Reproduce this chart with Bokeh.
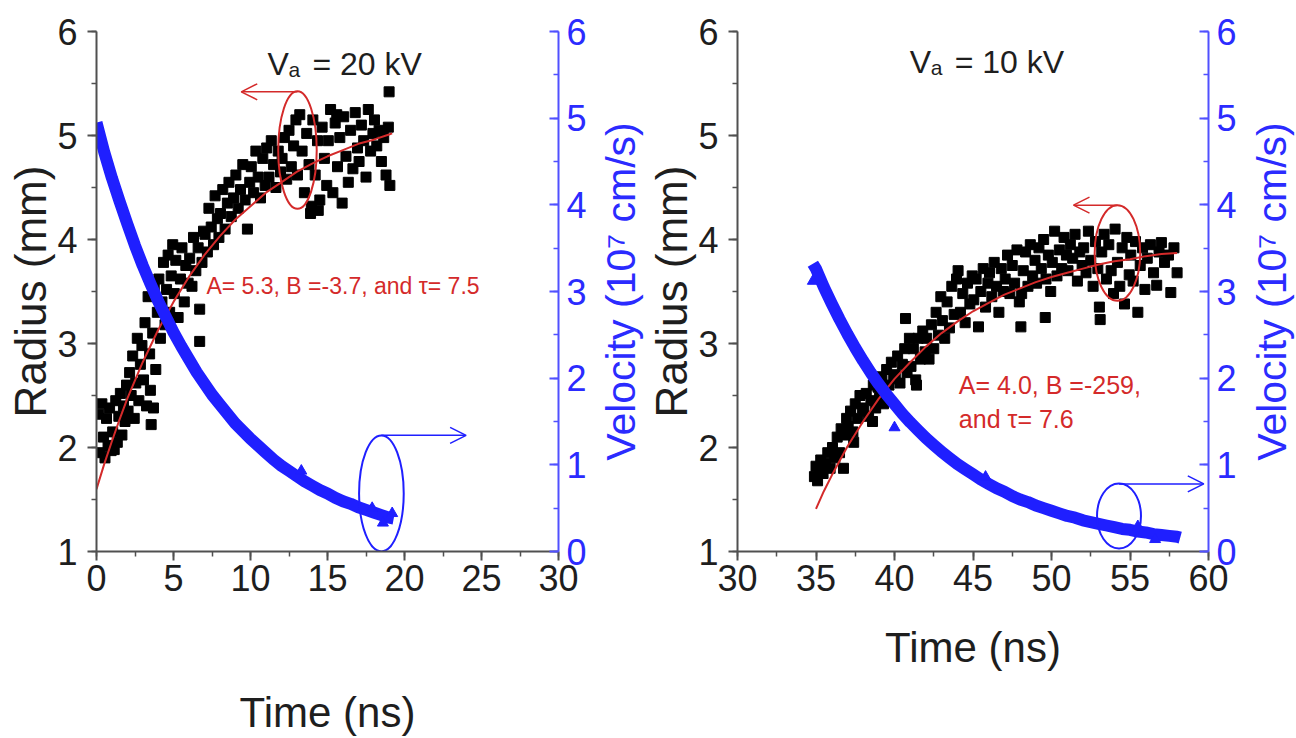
import math
from bokeh.plotting import figure
from bokeh.layouts import row
from bokeh.models import Range1d, LinearAxis, SingleIntervalTicker, Label, Arrow, OpenHead, Title
from bokeh.embed import file_html
from bokeh.resources import INLINE

# ---------------- left panel (Va = 20 kV) ----------------
left_time = [
    0.15, 0.25, 0.35, 0.45, 0.55, 0.65, 0.75, 0.85, 0.95,
    1.05, 1.15, 1.25, 1.35, 1.45, 1.55, 1.65, 1.75, 1.85, 1.95,
    2.05, 2.15, 2.25, 2.35, 2.45, 2.55, 2.65, 2.75, 2.85, 2.95,
    3.05, 3.15, 3.25, 3.35, 3.45, 3.55, 3.65, 3.75, 3.85, 3.95, 3.5, 3.7,
    4.05, 4.15, 4.25, 4.35, 4.45, 4.55, 4.65, 4.75, 4.85, 4.95,
    5.05, 5.15, 5.3, 5.45, 5.55, 5.7, 5.8, 5.95,
    6.05, 6.2, 6.3, 6.45, 6.6, 6.7, 6.7, 6.85, 6.95,
    7.05, 7.2, 7.3, 7.45, 7.6, 7.7, 7.85, 7.95,
    8.05, 8.2, 8.35, 8.5, 8.6, 8.75, 8.9,
    9.05, 9.2, 9.35, 9.5, 9.65, 9.8, 9.95,
    10.05, 10.2, 10.35, 10.5, 10.65, 10.8, 10.95,
    11.05, 11.2, 11.35, 11.5, 11.65, 11.8, 11.95,
    12.05, 12.2, 12.35, 12.5, 12.65, 12.8, 12.95,
    13.05, 13.2, 13.35, 13.5, 13.65, 13.8, 13.95, 13.9,
    14.05, 14.2, 14.35, 14.5, 14.65, 14.8, 14.95, 14.4,
    15.05, 15.2, 15.35, 15.5, 15.65, 15.8, 15.95, 15.6,
    16.05, 16.2, 16.35, 16.5, 16.65, 16.8, 16.95,
    17.05, 17.2, 17.35, 17.5, 17.65, 17.8, 17.95,
    18.05, 18.2, 18.35, 18.5, 18.65, 18.8, 18.95, 19.0, 19.05]
left_radius = [
    2.32, 1.95, 2.42, 2.10, 1.90, 2.28, 2.02, 2.38, 1.97,
    2.15, 1.98, 2.45, 2.05, 2.30, 2.52, 2.12, 2.40, 2.25, 2.60,
    2.35, 2.72, 2.50, 2.88, 2.28, 2.62, 3.05, 2.45, 2.80, 2.98,
    2.65, 3.20, 2.40, 3.45, 2.90, 2.22, 3.10, 3.55, 2.75, 3.30, 2.55, 2.38,
    3.62, 3.05, 3.40, 3.78, 3.18, 3.52, 3.85, 3.30, 3.65, 3.95,
    3.48, 3.80, 3.25, 3.62, 3.92, 3.40, 3.75, 3.58,
    3.82, 3.55, 4.02, 3.70, 3.92, 3.33, 3.02, 3.78, 4.08,
    4.05, 3.88, 4.30, 4.12, 3.95, 4.42, 4.20, 4.02,
    4.25, 4.48, 4.10, 4.35, 4.55, 4.22, 4.40,
    4.62, 4.30, 4.48, 4.72, 4.38, 4.10, 4.55,
    4.70, 4.45, 4.85, 4.60, 4.40, 4.78, 4.52,
    4.88, 4.60, 4.95, 4.72, 4.50, 4.85, 4.65,
    4.78, 4.98, 4.58, 5.05, 4.70, 4.90, 5.15,
    4.62, 5.20, 4.85, 4.45, 5.02, 4.72, 4.32, 4.25,
    5.15, 4.62, 4.95, 4.38, 5.08, 4.78, 4.52, 4.28,
    4.95, 5.25, 4.45, 5.12, 4.70, 4.98, 4.35, 5.20,
    5.18, 4.80, 4.55, 5.05, 4.68, 5.22, 4.88,
    4.75, 5.10, 4.95, 4.60, 5.25, 4.85, 5.02,
    5.15, 4.90, 5.05, 4.75, 4.98, 4.62, 5.08, 5.42, 4.52]
left_fit_time = [0, 0.5, 1, 1.5, 2, 3, 4, 5, 6, 7, 8, 9, 10, 11, 12, 13, 14, 15, 16, 17, 18, 19, 19.2]
left_fit_radius = [1.60, 1.84, 2.06, 2.27, 2.47, 2.82, 3.13, 3.40, 3.64, 3.85, 4.03, 4.19, 4.32,
                   4.45, 4.55, 4.65, 4.73, 4.80, 4.86, 4.92, 4.96, 5.01, 5.02]
left_vel_time = [0.0, 0.5, 1.0, 1.5, 2.0, 2.5, 3.0, 3.5, 4.0, 4.5, 5.0, 5.5, 6.0, 6.5, 7.0, 7.5,
                 8.0, 8.5, 9.0, 9.5, 10.0, 10.5, 11.0, 11.5, 12.0, 12.5, 13.0, 13.5, 14.0, 14.5,
                 15.0, 15.5, 16.0, 16.5, 17.0, 17.5, 18.0, 18.5, 19.0, 19.3]
left_vel = [4.95, 4.61, 4.31, 4.04, 3.78, 3.53, 3.30, 3.09, 2.89, 2.71, 2.53, 2.37, 2.22, 2.07,
            1.94, 1.81, 1.70, 1.59, 1.48, 1.39, 1.30, 1.22, 1.14, 1.06, 0.99, 0.93, 0.87, 0.81,
            0.76, 0.71, 0.67, 0.62, 0.58, 0.55, 0.51, 0.48, 0.45, 0.42, 0.39, 0.38]
left_spike_time = [13.3, 17.9, 18.6, 19.2]
left_spike_vel = [0.93, 0.50, 0.33, 0.44]

# ---------------- right panel (Va = 10 kV) ----------------
right_time = [
    34.9, 35.0, 35.1, 35.2, 35.3, 35.45, 35.6, 35.75, 35.9,
    36.05, 36.2, 36.35, 36.5, 36.6, 36.75, 36.9, 36.95,
    37.05, 37.2, 37.35, 37.5, 37.65, 37.8, 37.95, 37.4,
    38.05, 38.2, 38.35, 38.5, 38.65, 38.8, 38.95, 38.6,
    39.05, 39.2, 39.35, 39.5, 39.65, 39.8, 39.95, 39.3,
    40.05, 40.2, 40.35, 40.5, 40.65, 40.8, 40.95, 40.7,
    41.05, 41.2, 41.35, 41.5, 41.65, 41.8, 41.95, 41.4,
    42.05, 42.2, 42.35, 42.5, 42.65, 42.8, 42.95,
    43.05, 43.2, 43.35, 43.5, 43.65, 43.8, 43.95,
    44.05, 44.2, 44.35, 44.5, 44.65, 44.8, 44.95,
    45.05, 45.2, 45.35, 45.5, 45.65, 45.8, 45.95,
    46.05, 46.2, 46.35, 46.5, 46.65, 46.8, 46.95,
    47.05, 47.2, 47.35, 47.5, 47.65, 47.8, 47.95,
    48.05, 48.2, 48.35, 48.5, 48.65, 48.8, 48.95, 48.1,
    49.05, 49.2, 49.35, 49.5, 49.65, 49.8, 49.95, 49.6,
    50.05, 50.2, 50.35, 50.5, 50.65, 50.8, 50.95,
    51.05, 51.2, 51.35, 51.5, 51.65, 51.8, 51.95,
    52.05, 52.2, 52.35, 52.5, 52.65, 52.8, 52.95,
    53.05, 53.1, 53.2, 53.35, 53.5, 53.65, 53.8, 53.95,
    54.05, 54.2, 54.35, 54.5, 54.65, 54.8, 54.95,
    55.05, 55.2, 55.35, 55.5, 55.65, 55.8, 55.95,
    56.1, 56.3, 56.5, 56.7, 56.85,
    57.0, 57.2, 57.45, 57.6, 57.8, 58.0]
right_radius = [
    1.72, 1.82, 1.68, 1.78, 1.88, 1.75, 1.85, 1.95, 1.80,
    2.00, 1.90, 2.10, 1.95, 2.18, 1.80, 2.12, 2.28,
    2.20, 2.35, 2.15, 2.42, 2.28, 2.50, 2.38, 2.05,
    2.35, 2.52, 2.30, 2.45, 2.60, 2.38, 2.58, 2.25,
    2.48, 2.68, 2.55, 2.75, 2.60, 2.82, 2.66, 2.42,
    2.70, 2.88, 2.62, 2.80, 2.95, 2.72, 3.05, 3.24,
    2.78, 2.95, 2.65, 3.05, 2.85, 3.12, 2.92, 2.60,
    3.05, 2.85, 3.18, 2.95, 3.30, 3.08, 3.45,
    3.22, 3.05, 3.40, 3.15, 3.55, 3.28, 3.62,
    3.70, 3.30, 3.48, 3.20, 3.58, 3.38, 3.65,
    3.42, 3.62, 3.16, 3.50, 3.72, 3.35, 3.58,
    3.68, 3.45, 3.78, 3.55, 3.30, 3.72, 3.50,
    3.62, 3.85, 3.48, 3.75, 3.58, 3.90, 3.40,
    3.16, 3.70, 3.88, 3.55, 3.95, 3.65, 3.80, 3.48,
    3.58, 3.92, 3.72, 4.00, 3.62, 3.85, 3.50, 3.25,
    3.78, 4.08, 3.65, 3.90, 3.72, 4.02, 3.85,
    3.70, 3.95, 3.82, 4.05, 3.60, 3.88, 3.75,
    3.92, 3.68, 4.08, 3.80, 3.55, 3.98, 3.72,
    3.35, 3.23, 3.88, 4.05, 3.62, 3.95, 3.70, 3.48,
    4.10, 3.78, 3.55, 3.92, 3.38, 4.02, 3.66,
    3.85, 3.60, 3.98, 3.30, 3.75, 3.92, 3.52,
    3.82, 3.95, 3.68, 3.56, 3.88,
    3.97, 3.78, 3.85, 3.49, 3.92, 3.68]
right_fit_time = [35, 35.5, 36, 37, 38, 39, 40, 41, 42, 43, 44, 45, 46, 47, 48, 49, 50, 51,
                  52, 53, 54, 55, 56, 57, 58]
right_fit_radius = [1.41, 1.58, 1.73, 2.01, 2.25, 2.47, 2.66, 2.82, 2.97, 3.10, 3.21, 3.31, 3.39,
                    3.47, 3.53, 3.59, 3.64, 3.68, 3.72, 3.76, 3.79, 3.81, 3.84, 3.86, 3.87]
right_vel_time = [34.8, 35.0, 35.5, 36.0, 36.5, 37.0, 37.5, 38.0, 38.5, 39.0, 39.5, 40.0, 40.5,
                  41.0, 41.5, 42.0, 42.5, 43.0, 43.5, 44.0, 44.5, 45.0, 45.5, 46.0, 46.5, 47.0,
                  47.5, 48.0, 48.5, 49.0, 49.5, 50.0, 50.5, 51.0, 51.5, 52.0, 52.5, 53.0, 53.5,
                  54.0, 54.5, 55.0, 55.5, 56.0, 56.5, 57.0, 57.5, 58.0, 58.2]
right_vel = [3.32, 3.26, 3.05, 2.86, 2.68, 2.51, 2.35, 2.20, 2.06, 1.93, 1.81, 1.70, 1.59,
             1.49, 1.40, 1.31, 1.23, 1.15, 1.08, 1.01, 0.95, 0.89, 0.83, 0.78, 0.73, 0.69,
             0.64, 0.60, 0.57, 0.53, 0.50, 0.47, 0.44, 0.41, 0.39, 0.36, 0.34, 0.32, 0.30,
             0.28, 0.26, 0.25, 0.23, 0.22, 0.20, 0.19, 0.18, 0.17, 0.16]
right_spike_time = [34.8, 40.0, 45.8, 55.5, 56.6]
right_spike_vel = [3.12, 1.43, 0.86, 0.29, 0.14]

radius_label = "Radius (mm)"
velocity_label = "Velocity (10\u2077 cm/s)"
time_label = "Time (ns)"

FONT = "Liberation Sans"
AX_BLACK = "#505050"
TXT_BLACK = "#1e1e1e"
BLUE = "#1f1fff"
BLUE_AX = "#5050ff"
BLUE_TXT = "#2b2bff"
RED = "#d42a2a"
TICK_SIZE = "36px"
TOP, BOTTOM = 31, 186


def make_panel(width, x0, x1, border_lr, xlab_standoff, t, r, ft, fr, vt, vv, st, sv,
               va_rest, va_xy, notes, red_ell, blue_ell, red_arr, blue_arr):
    bl, br = border_lr
    p = figure(width=width, height=738, x_range=Range1d(x0, x1), y_range=Range1d(1, 6),
               output_backend="svg", toolbar_location=None,
               min_border_left=bl, min_border_right=br, min_border_top=TOP, min_border_bottom=BOTTOM)
    p.extra_y_ranges = {"vel": Range1d(0, 6)}
    p.outline_line_color = None
    p.xgrid.visible = False
    p.ygrid.visible = False
    p.background_fill_color = "white"
    p.border_fill_color = "white"

    xa = p.xaxis[0]
    xa.ticker = SingleIntervalTicker(interval=5, num_minor_ticks=2)
    xa.axis_label = time_label
    xa.axis_label_standoff = xlab_standoff
    ya = p.yaxis[0]
    ya.ticker = SingleIntervalTicker(interval=1, num_minor_ticks=2)
    for ax in (xa, ya):
        ax.axis_line_color = AX_BLACK
        ax.axis_line_width = 2
        ax.major_tick_line_color = AX_BLACK
        ax.minor_tick_line_color = AX_BLACK
        ax.major_tick_line_width = 2
        ax.minor_tick_line_width = 1.5
        ax.major_tick_out = 9
        ax.major_tick_in = 0
        ax.minor_tick_out = 5
        ax.minor_tick_in = 0
        ax.major_label_text_font = FONT
        ax.major_label_text_font_size = TICK_SIZE
        ax.major_label_text_color = TXT_BLACK
        ax.axis_label_text_font = FONT
        ax.axis_label_text_font_size = "42px"
        ax.axis_label_text_font_style = "normal"
        ax.axis_label_text_color = TXT_BLACK
    xa.major_label_standoff = 4
    ya.major_label_standoff = 10

    # left axis title (reads bottom to top)
    p.add_layout(Title(text=radius_label, align="center", standoff=0,
                       text_font=FONT, text_font_size="44px", text_font_style="normal",
                       text_color=TXT_BLACK), "left")

    va = LinearAxis(y_range_name="vel", ticker=SingleIntervalTicker(interval=1, num_minor_ticks=2))
    va.axis_line_color = BLUE_AX
    va.axis_line_width = 2
    va.major_tick_line_color = BLUE_AX
    va.minor_tick_line_color = BLUE_AX
    va.major_tick_line_width = 2
    va.minor_tick_line_width = 1.5
    va.major_tick_in = 9
    va.major_tick_out = 0
    va.minor_tick_in = 5
    va.minor_tick_out = 0
    va.major_label_standoff = 8
    va.major_label_text_font = FONT
    va.major_label_text_font_size = TICK_SIZE
    va.major_label_text_color = BLUE_TXT
    p.add_layout(va, "right")

    # data
    p.scatter(t, r, marker="square", size=10, color="black")
    p.line(ft, fr, line_color=RED, line_width=2)
    p.line(vt, vv, y_range_name="vel", line_color=BLUE, line_width=12, line_join="round")
    p.scatter(st, sv, y_range_name="vel", marker="triangle", size=11, color=BLUE)

    # ellipses and arrows
    ex, ey, ew, eh = red_ell
    p.ellipse(x=[ex], y=[ey], width=[ew], height=[eh], fill_color=None,
              line_color=RED, line_width=2)
    bx, by, bw, bh = blue_ell
    p.ellipse(x=[bx], y=[by], width=[bw], height=[bh], fill_color=None,
              line_color=BLUE, line_width=2, y_range_name="vel")
    (ax0, ay0, ax1, ay1) = red_arr
    p.add_layout(Arrow(x_start=ax0, y_start=ay0, x_end=ax1, y_end=ay1,
                       line_color=RED, line_width=1.5,
                       end=OpenHead(size=16, line_color=RED, line_width=1.5)))
    (bx0, by0, bx1, by1) = blue_arr
    p.add_layout(Arrow(x_start=bx0, y_start=by0, x_end=bx1, y_end=by1,
                       line_color=BLUE, line_width=1.5, y_range_name="vel",
                       end=OpenHead(size=16, line_color=BLUE, line_width=1.5)))

    # V_a title
    vx, vy = va_xy
    p.add_layout(Label(x=vx, y=vy, text="V", text_font=FONT, text_font_size="32px",
                       text_color=TXT_BLACK, text_baseline="alphabetic"))
    p.add_layout(Label(x=vx, y=vy, x_offset=21, y_offset=-6, text="a", text_font=FONT,
                       text_font_size="21px", text_color=TXT_BLACK, text_baseline="alphabetic"))
    p.add_layout(Label(x=vx, y=vy, x_offset=45, text=va_rest, text_font=FONT,
                       text_font_size="32px", text_color=TXT_BLACK, text_baseline="alphabetic"))

    for (nx, ny, ntext, nsize) in notes:
        p.add_layout(Label(x=nx, y=ny, text=ntext, text_font=FONT, text_font_size=nsize,
                           text_color=RED, text_baseline="middle"))
    return p


def velocity_title_strip(width):
    # narrow strip that carries the right-hand axis title, reading bottom to top
    s = figure(width=width, height=738, x_range=Range1d(0, 1), y_range=Range1d(0, 1),
               output_backend="svg", toolbar_location=None,
               x_axis_location=None, y_axis_location=None,
               min_border_left=0, min_border_right=0, min_border_top=TOP, min_border_bottom=BOTTOM)
    s.outline_line_color = None
    s.xgrid.visible = False
    s.ygrid.visible = False
    s.add_layout(Title(text=velocity_label, align="center", standoff=0,
                       text_font=FONT, text_font_size="41px", text_font_style="normal",
                       text_color=BLUE_TXT), "left")
    return s


left = make_panel(
    595, 0, 30, (96, 37), 95,
    left_time, left_radius, left_fit_time, left_fit_radius,
    left_vel_time, left_vel, left_spike_time, left_spike_vel,
    "= 20 kV", (11.1, 5.69),
    [(7.14, 3.55, "A= 5.3, B =-3.7, and \u03c4= 7.5", "23px")],
    (13.05, 4.86, 2.5, 1.13), (18.5, 0.67, 2.9, 1.34),
    (13.05, 5.42, 9.4, 5.42), (18.5, 1.34, 24.0, 1.34))
left_title = velocity_title_strip(49)

right = make_panel(
    602, 30, 60, (91, 38), 30,
    right_time, right_radius, right_fit_time, right_fit_radius,
    right_vel_time, right_vel, right_spike_time, right_spike_vel,
    "= 10 kV", (40.97, 5.71),
    [(44.1, 2.60, "A= 4.0, B =-259,", "25px"), (44.1, 2.27, "and \u03c4= 7.6", "25px")],
    (54.2, 3.87, 2.9, 0.92), (54.3, 0.41, 2.8, 0.75),
    (54.2, 4.33, 51.4, 4.33), (54.3, 0.78, 59.7, 0.78))
right_title = velocity_title_strip(50)

layout = row(left, left_title, right, right_title)
open("out.html", "w").write(file_html(layout, INLINE))
